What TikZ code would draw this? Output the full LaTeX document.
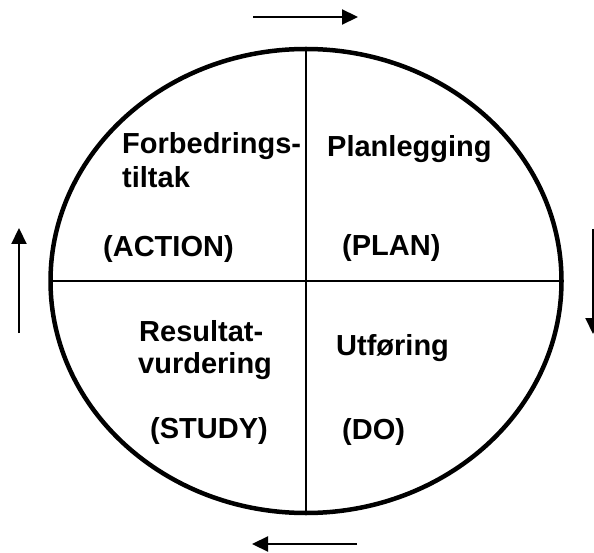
\documentclass[tikz,border=0pt]{standalone}
\usepackage{fontspec}
\setmainfont{Liberation Sans}
\usetikzlibrary{arrows.meta}
\begin{document}
\begin{tikzpicture}[x=1pt,y=-1pt,
  lbl/.style={anchor=base west,inner sep=0pt,font=\fontsize{29}{33}\selectfont\bfseries},
  rim/.style={line width=4.5pt},
  divider/.style={line width=2.4pt},
  flow/.style={line width=2.2pt,-{Triangle[length=16pt,width=15pt]}}]
  \useasboundingbox (0,0) rectangle (594,553);
  % cycle disc and its quarters
  \coordinate (c) at (306,281);
  \draw[rim] (c) ellipse [x radius=255.5, y radius=232];
  \coordinate (ntop) at (306,49);
  \coordinate (nbot) at (306,513);
  \coordinate (wl) at (50.5,281);
  \coordinate (wr) at (561.5,281);
  \draw[divider] (ntop) -- (nbot);
  \draw[divider] (wl) -- (wr);
  % quarter labels
  \node[lbl] (act1) at (122,154) {Forbedrings-};
  \node[lbl] (act2) at (122,188) {tiltak};
  \node[lbl] (act3) at (103,257) {(ACTION)};
  \node[lbl] (pl1) at (327,157) {Planlegging};
  \node[lbl] (pl2) at (342,256) {(PLAN)};
  \node[lbl] (st1) at (139,341) {Resultat-};
  \node[lbl] (st2) at (138,373) {vurdering};
  \node[lbl] (st3) at (150,438) {(STUDY)};
  \node[lbl] (do1) at (336,355) {Utføring};
  \node[lbl] (do2) at (342,439) {(DO)};
  % direction arrows around the cycle
  \coordinate (ta) at (253,17);  \coordinate (tb) at (358,17);
  \coordinate (ra) at (593,229); \coordinate (rb) at (593,334);
  \coordinate (ba) at (357,544); \coordinate (bb) at (252,544);
  \coordinate (la) at (19,333);  \coordinate (lb) at (19,228);
  \draw[flow] (ta) -- (tb);
  \draw[flow] (ra) -- (rb);
  \draw[flow] (ba) -- (bb);
  \draw[flow] (la) -- (lb);
\end{tikzpicture}
\end{document}
